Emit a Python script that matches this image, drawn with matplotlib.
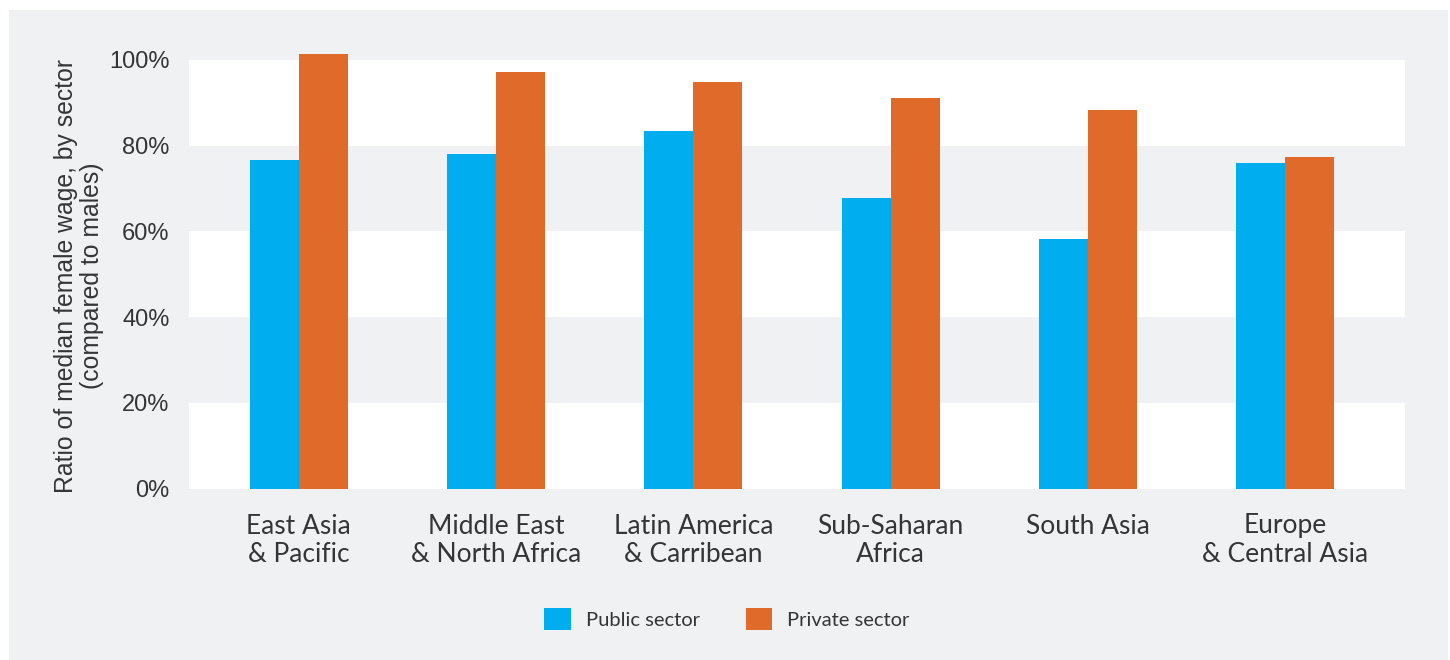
import numpy as np
import matplotlib
matplotlib.use("Agg")
import matplotlib.pyplot as plt
from matplotlib.patches import Rectangle, Patch

regions = ["East Asia\n& Pacific", "Middle East\n& North Africa", "Latin America\n& Carribean",
           "Sub-Saharan\nAfrica", "South Asia", "Europe\n& Central Asia"]
public_sector = [76.7, 78.1, 83.4, 67.8, 58.2, 76.0]
private_sector = [101.4, 97.2, 94.9, 91.1, 88.3, 77.4]
yticks = [0, 20, 40, 60, 80, 100]
ytick_labels = ["0%", "20%", "40%", "60%", "80%", "100%"]

BLUE = "#00aeef"
ORANGE = "#e06a2a"
BG = "#f0f1f3"
TXT = "#353535"

fig = plt.figure(figsize=(14.5, 6.6), dpi=100)
fig.patch.set_facecolor("white")
# gray card behind everything
fig.patches.append(Rectangle((9 / 1450, 0), 1439 / 1450, 650 / 660, transform=fig.transFigure,
                             facecolor=BG, edgecolor="none", zorder=-10))

ax = fig.add_axes([189 / 1450, 1 - 488.5 / 660, 1216 / 1450, 428.5 / 660 * 102 / 100])
ax.set_facecolor(BG)
ax.set_xlim(-0.557, 5.608)
ax.set_ylim(0, 102)

# alternating white bands
for lo in (0, 40, 80):
    ax.axhspan(lo, lo + 20, facecolor="white", edgecolor="none", zorder=0)

x = np.arange(len(regions))
w = 0.248
ax.bar(x - w / 2, public_sector, w, color=BLUE, zorder=2)
ax.bar(x + w / 2, private_sector, w, color=ORANGE, zorder=2)

for s in ax.spines.values():
    s.set_visible(False)
ax.tick_params(length=0)
ax.set_yticks(yticks)
ax.set_yticklabels(ytick_labels, fontsize=17, color=TXT, family="Liberation Sans")
ax.tick_params(axis="y", pad=14)
ax.set_xticks(x)
ax.set_xticklabels(regions, fontsize=19, color=TXT, family="Lato", linespacing=1.2)
ax.tick_params(axis="x", pad=18)

fig.text(79 / 1450, 1 - 276 / 660, "Ratio of median female wage, by sector\n(compared to males)",
         rotation=90, ha="center", va="center", multialignment="center",
         fontsize=17.8, color=TXT, family="Liberation Sans", linespacing=1.1)

handles = [Patch(facecolor=BLUE, edgecolor="none", label="Public sector"),
           Patch(facecolor=ORANGE, edgecolor="none", label="Private sector")]
leg = fig.legend(handles=handles, loc="center", bbox_to_anchor=(727 / 1450, 1 - 619 / 660), ncol=2,
                 frameon=False, handlelength=1.3, handleheight=1.3, handletextpad=0.75,
                 columnspacing=2.3, prop={"family": "Lato", "size": 14.5})
for t in leg.get_texts():
    t.set_color(TXT)

fig.savefig("out.png", dpi=100, facecolor=fig.get_facecolor())
